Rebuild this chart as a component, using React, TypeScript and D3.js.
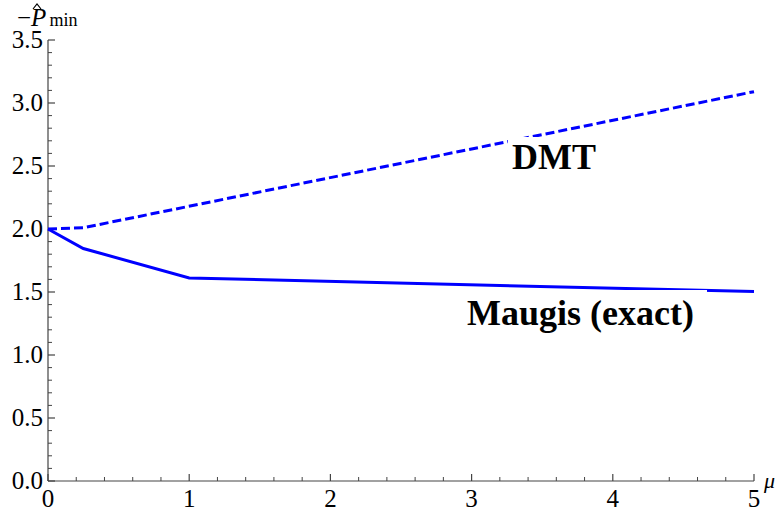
import * as d3 from 'd3'
import React from 'react'

const muMaugis = [0, 0.25, 1, 5]
const pMaugis = [2.0, 1.845, 1.612, 1.503]
const muDMT = [0, 0.25, 5]
const pDMT = [2.0, 2.01, 3.09]
const xTicks = [0, 1, 2, 3, 4, 5]
const yTicks = [0, 0.5, 1, 1.5, 2, 2.5, 3, 3.5]

const W = 783, H = 511
const font = { fontFamily: '"Liberation Serif"' }
const blue = '#0000ff'
const axisColor = '#444'

export default function App() {
  const
    x = d3.scaleLinear().domain([0, 5]).range([48, 754]),
    y = d3.scaleLinear().domain([0, 3.5]).range([481, 40]),
    line = d3.line<[number, number]>().x(d => x(d[0])).y(d => y(d[1])),
    maugis = line(muMaugis.map((m, i) => [m, pMaugis[i]]))!,
    dmt = line(muDMT.map((m, i) => [m, pDMT[i]]))!,
    xMinor = d3.range(0, 5.001, 0.2).filter(v => Math.abs(v - Math.round(v)) > 1e-6),
    yMinor = d3.range(0, 3.501, 0.1).filter(v => Math.abs(v * 2 - Math.round(v * 2)) > 1e-6)

  React.useEffect(() => { document.body.style.margin = '0' }, [])

  return (
    <svg width={W} height={H} style={{ display: 'block', background: '#fff' }}>
      {/* axes */}
      <line x1={x(0)} x2={x(5)} y1={y(0)} y2={y(0)} stroke={axisColor} strokeWidth={1.2} />
      <line x1={x(0)} x2={x(0)} y1={y(0)} y2={y(3.5)} stroke={axisColor} strokeWidth={1.2} />
      {xTicks.map(t => (
        <g key={'xt' + t}>
          <line x1={x(t)} x2={x(t)} y1={y(0)} y2={y(0) - 7} stroke={axisColor} strokeWidth={1.2} />
          <text x={x(t)} y={507} fontSize={25} textAnchor='middle' fill='#000' style={font}>{t}</text>
        </g>
      ))}
      {xMinor.map(t => (
        <line key={'xm' + t} x1={x(t)} x2={x(t)} y1={y(0)} y2={y(0) - 4} stroke={axisColor} strokeWidth={1} />
      ))}
      {yTicks.map(t => (
        <g key={'yt' + t}>
          <line x1={x(0)} x2={x(0) + 7} y1={y(t)} y2={y(t)} stroke={axisColor} strokeWidth={1.2} />
          <text x={43} y={y(t) + 8} fontSize={25} textAnchor='end' fill='#000' style={font}>{t.toFixed(1)}</text>
        </g>
      ))}
      {yMinor.map(t => (
        <line key={'ym' + t} x1={x(0)} x2={x(0) + 4} y1={y(t)} y2={y(t)} stroke={axisColor} strokeWidth={1} />
      ))}

      {/* axis labels */}
      <text x={764} y={488} fontSize={22} fontStyle='italic' style={font}>μ</text>
      <text x={17} y={26} fontSize={25} style={font}>
        −<tspan fontStyle='italic'>P</tspan><tspan fontSize={18} dx={3}>min</tspan>
      </text>
      <path d='M33,9 L37,4 L41,9' fill='none' stroke='#000' strokeWidth={1.2} />

      {/* curves */}
      <path d={dmt} fill='none' stroke={blue} strokeWidth={3} strokeDasharray='9,4' />
      <path d={maugis} fill='none' stroke={blue} strokeWidth={3} />

      {/* curve labels with white backgrounds */}
      <rect x={508} y={137} width={92} height={38} fill='#fff' />
      <text x={512} y={169} fontSize={36} fontWeight='bold' style={font}>DMT</text>
      <rect x={463} y={290} width={244} height={52} fill='#fff' />
      <text x={467} y={325} fontSize={36} fontWeight='bold' style={font}>Maugis (exact)</text>
    </svg>
  )
}
